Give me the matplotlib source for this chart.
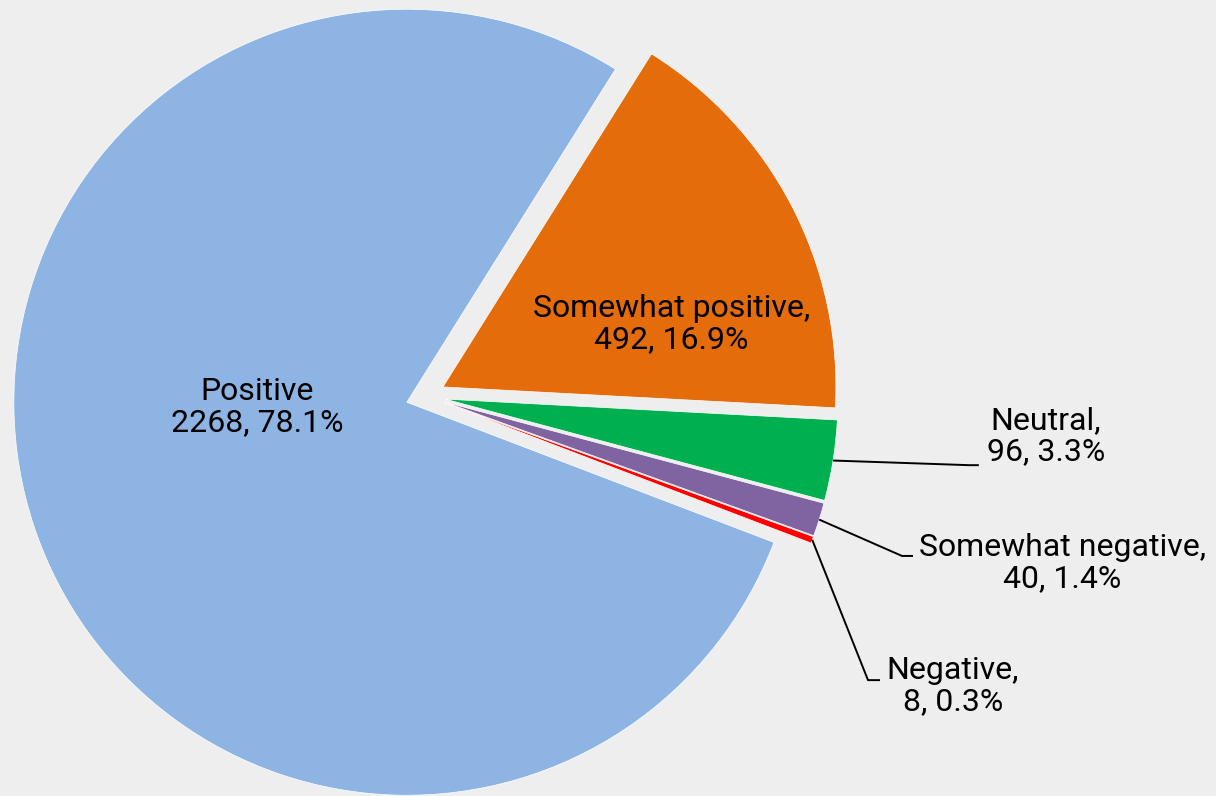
import numpy as np
from matplotlib import pyplot as plt


# 데이터
labels = ['Positive', 'Somewhat positive', 'Neutral', 'Somewhat negative', 'Negative']
counts = [2268, 492, 96, 40, 8]
colors = ['#8EB4E3', '#E46C0A', '#00B050', '#8064A2', '#FF0000']

# 레이블 위치 (data 좌표, 파이 중심 = 0,0 / 반지름 = 1)
label_pos = [(-0.429, -0.028), (0.626, 0.184), (1.579, -0.102),
             (1.620, -0.425), (1.342, -0.738)]
# 리더선 꺾이는 점, 끝점 (None 이면 리더선 없음)
leader_pts = [None, None,
              [(1.383, -0.176), (1.408, -0.176)],
              [(1.2125, -0.407), (1.2405, -0.407)],
              [(1.126, -0.723), (1.1565, -0.723)]]

BG = '#EEEEEE'

plt.rcParams['font.family'] = ['Roboto', 'DejaVu Sans']

fig = plt.figure(figsize=(12.16, 7.96), dpi=100, facecolor=BG)
ax = fig.add_axes([0, 0, 1, 1])
ax.set_facecolor(BG)

wedges, _ = ax.pie(counts, colors=colors, startangle=-20.9, counterclock=False,
                   explode=[0.05] * len(counts), radius=1,
                   wedgeprops=dict(edgecolor='white', linewidth=0.5))

total = sum(counts)
for i, (name, c) in enumerate(zip(labels, counts)):
    sep = '' if i == 0 else ','
    text = "%s%s\n%d, %.1f%%" % (name, sep, c, c / total * 100)
    x, y = label_pos[i]
    ax.text(x, y, text, ha='center', va='center', multialignment='center',
            fontsize=23, color='black', linespacing=1.1)

    if leader_pts[i] is not None:
        w = wedges[i]
        mid = np.deg2rad((w.theta1 + w.theta2) / 2)
        cx, cy = w.center
        start = (cx + w.r * np.cos(mid), cy + w.r * np.sin(mid))
        pts = [start] + leader_pts[i]
        ax.plot([p[0] for p in pts], [p[1] for p in pts], color='black', lw=1.4,
                solid_capstyle='butt')

ax.set_xlim(-1.0827, 2.0115)
ax.set_ylim(-1.0178, 1.0076)
ax.set_aspect('equal')
ax.axis('off')

plt.savefig('out.png', dpi=100, facecolor=BG)
